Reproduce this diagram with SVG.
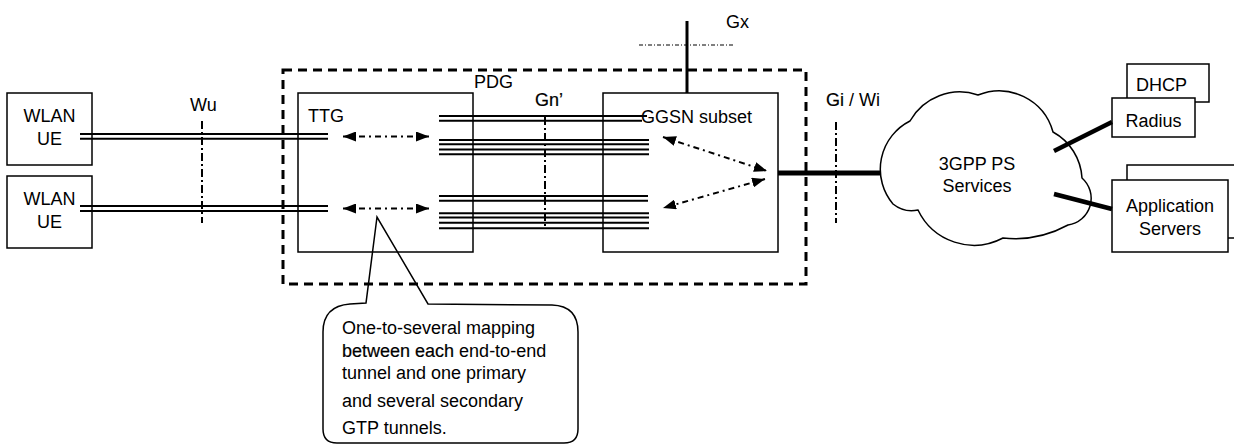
<svg xmlns="http://www.w3.org/2000/svg" width="1234" height="444" viewBox="0 0 1234 444">
<style>
text{font-family:"Liberation Sans",Arial,sans-serif;font-size:18px;fill:#000}
.box{fill:#fff;stroke:#000;stroke-width:1.5}
.tn{stroke:#000;stroke-width:2;fill:none}
.dd{stroke:#000;stroke-width:2;fill:none;stroke-dasharray:8 3 2 3}
.arr{stroke:#000;stroke-width:2;fill:none;stroke-dasharray:6 4 2 4;marker-start:url(#ah);marker-end:url(#ah)}
.thick{stroke:#000;fill:none}
.semi{stroke:#000;stroke-width:0.2}
</style>
<defs>
<marker id="ah" viewBox="0 0 13 10" refX="13" refY="5" markerWidth="13" markerHeight="10" markerUnits="userSpaceOnUse" orient="auto-start-reverse"><path d="M0,0 L13,5 L0,10 z" fill="#000"/></marker>
</defs>
<rect width="1234" height="444" fill="#fff"/>

<g id="pdg">
<rect x="283" y="70" width="523" height="214" fill="none" stroke="#000" stroke-width="3" stroke-dasharray="9 6"/>
<text x="474" y="88">PDG</text>
</g>

<g id="ue1">
<rect class="box" x="7" y="93" width="85" height="72"/>
<text x="49.5" y="122" text-anchor="middle">WLAN</text>
<text x="49.5" y="145" text-anchor="middle">UE</text>
</g>
<g id="ue2">
<rect class="box" x="7" y="176" width="85" height="72"/>
<text x="49.5" y="205" text-anchor="middle">WLAN</text>
<text x="49.5" y="228" text-anchor="middle">UE</text>
</g>

<g id="ttg">
<rect x="298" y="93" width="175" height="159" fill="none" stroke="#000" stroke-width="1.5"/>
<text x="308" y="122">TTG</text>
</g>

<g id="ggsn">
<rect x="603" y="93" width="175" height="159" fill="none" stroke="#000" stroke-width="1.5"/>
<text x="641" y="123">GGSN subset</text>
</g>

<g id="cloud">
<path d="M893,204 A54,54 0 0 1 910,121 A57,57 0 0 1 978,95 A56,56 0 0 1 1053,132 A56,56 0 0 1 1082,178 A27,27 0 0 1 1068,225 A111,111 0 0 1 1003,238 A62,62 0 0 1 918,210 A30,30 0 0 1 893,204 Z" fill="#fff" stroke="#000" stroke-width="1.5"/>
<text x="977" y="170" text-anchor="middle">3GPP PS</text>
<text x="977" y="192" text-anchor="middle">Services</text>
</g>

<g id="dhcp">
<rect class="box" x="1127" y="64" width="82" height="38"/>
<text x="1136" y="91">DHCP</text>
</g>
<g id="radius">
<rect class="box" x="1112" y="98" width="83" height="39"/>
<text x="1153.5" y="127" text-anchor="middle">Radius</text>
</g>
<g id="appback">
<rect class="box" x="1127" y="165" width="120" height="73"/>
</g>
<g id="appservers">
<rect class="box" x="1112" y="180" width="116" height="72"/>
<text x="1170" y="212" text-anchor="middle">Application</text>
<text x="1170" y="235" text-anchor="middle">Servers</text>
</g>

<g id="callout">
<path d="M377,217 L366,303 L350,304 Q323,306 323,332 L323,429 Q323,443 337,443 L564,443 Q578,443 578,429 L578,332 Q578,306 552,305 L428,304 Z" fill="none" stroke="#000" stroke-width="1.5"/>
<text x="342" y="334">One-to-several mapping</text>
<text x="342" y="357"><tspan class="semi">between each</tspan> end-to-end</text>
<text x="342" y="379">tunnel and one primary</text>
<text x="342" y="407">and several secondary</text>
<text x="342" y="434">GTP tunnels.</text>
</g>

<g id="connectors">
<line class="tn" x1="80" y1="134" x2="328" y2="134"/>
<line class="tn" x1="80" y1="138.7" x2="328" y2="138.7"/>
<line class="tn" x1="80" y1="206" x2="328" y2="206"/>
<line class="tn" x1="80" y1="211" x2="328" y2="211"/>
<line class="tn" x1="439" y1="116" x2="647" y2="116"/>
<line class="tn" x1="439" y1="120.7" x2="642" y2="120.7"/>
<line class="tn" x1="439" y1="140" x2="649" y2="140"/>
<line class="tn" x1="439" y1="144.3" x2="649" y2="144.3"/>
<line class="tn" x1="439" y1="149.5" x2="649" y2="149.5"/>
<line class="tn" x1="439" y1="154.3" x2="649" y2="154.3"/>
<line class="tn" x1="439" y1="196" x2="648" y2="196"/>
<line class="tn" x1="439" y1="200.7" x2="648" y2="200.7"/>
<line class="tn" x1="439" y1="213.3" x2="649" y2="213.3"/>
<line class="tn" x1="439" y1="217.5" x2="649" y2="217.5"/>
<line class="tn" x1="439" y1="222.7" x2="649" y2="222.7"/>
<line class="tn" x1="439" y1="228.3" x2="649" y2="228.3"/>
<line class="arr" x1="343" y1="136.5" x2="429" y2="136.5"/>
<line class="arr" x1="343" y1="208.5" x2="429" y2="208.5"/>
<line class="arr" x1="663" y1="137" x2="767" y2="171"/>
<line class="arr" x1="765" y1="179" x2="663" y2="208"/>
<line class="dd" x1="202" y1="121" x2="202" y2="223"/>
<text x="190" y="111">Wu</text>
<line class="dd" x1="545" y1="117" x2="545" y2="229"/>
<text x="535" y="106" class="semi">Gn’</text>
<line class="dd" x1="836" y1="122" x2="836" y2="223"/>
<text x="826" y="106"><tspan class="semi">Gi</tspan> / Wi</text>
<line x1="639" y1="45" x2="735" y2="45" stroke="#000" stroke-width="1" stroke-dasharray="4 2 1 2"/>
<text x="726" y="28">Gx</text>
<line class="thick" x1="687" y1="21" x2="687" y2="93" stroke-width="3"/>
<line class="thick" x1="778" y1="173" x2="881" y2="173" stroke-width="5"/>
<line class="thick" x1="1054" y1="151" x2="1112" y2="122" stroke-width="4.5"/>
<line class="thick" x1="1054" y1="194" x2="1112" y2="209" stroke-width="4.5"/>
</g>
</svg>
